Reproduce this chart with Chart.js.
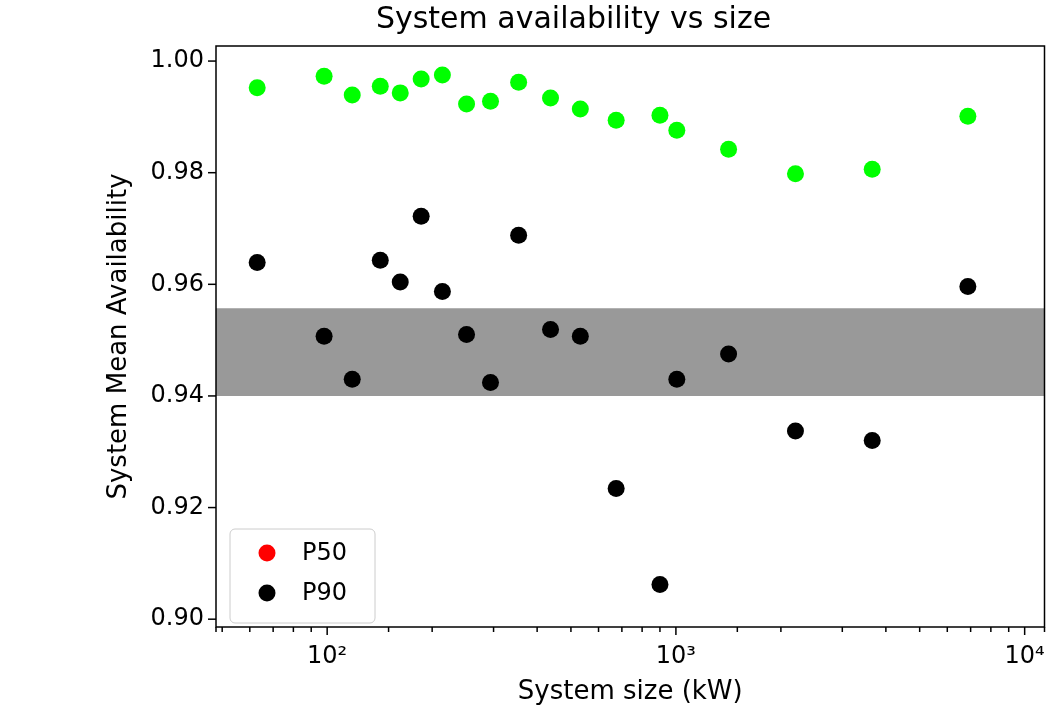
<!DOCTYPE html>
<html>
<head>
<meta charset="utf-8">
<script src="https://cdn.jsdelivr.net/npm/chart.js@4.4.1/dist/chart.umd.min.js"></script>
<style>
  html, body { margin: 0; padding: 0; background: #fff; }
  #wrap { width: 1053px; height: 712px; }
</style>
</head>
<body>
<div id="wrap"><canvas id="chart" width="1053" height="712"></canvas></div>
<script>
// Données
const systemSizes = [63, 98, 118, 142, 162, 186, 214, 251, 294, 354, 437, 532, 674, 900, 1006, 1416, 2202, 3655, 6873];
const p50Values = [0.9952, 0.9973, 0.9939, 0.9955, 0.9943, 0.9968, 0.9975, 0.9923, 0.9928, 0.9962, 0.9934, 0.9914, 0.9894, 0.9903, 0.9876, 0.9842, 0.9798, 0.9806, 0.9901];
const p90Values = [0.9639, 0.9507, 0.9430, 0.9643, 0.9604, 0.9722, 0.9587, 0.9510, 0.9424, 0.9688, 0.9519, 0.9507, 0.9234, 0.9062, 0.9430, 0.9475, 0.9337, 0.9320, 0.9596];
const bandLow = 0.940;
const bandHigh = 0.9557;
const xRange = [48, 11400];
const yRange = [0.8986, 1.0027];
const yTicks = [0.90, 0.92, 0.94, 0.96, 0.98, 1.00];
const legendItems = [
    { label: "P50", color: "#ff0000" },
    { label: "P90", color: "#000000" },
];

const FONT = "'DejaVu Sans', sans-serif";
const superscripts = { 2: "\u00b2", 3: "\u00b3", 4: "\u2074" };

// Cadre, graduations et légende dessinés à la main
const decorPlugin = {
    id: "decor",
    afterDraw(chart) {
        const { ctx, chartArea: a } = chart;
        const xs = chart.scales.x;
        const ys = chart.scales.y;
        ctx.save();
        ctx.strokeStyle = "#000";
        ctx.lineWidth = 1.5;
        // graduations x
        xs.ticks.forEach(t => {
            const exp = Math.log10(t.value);
            const major = Math.abs(exp - Math.round(exp)) < 1e-9;
            const px = xs.getPixelForValue(t.value);
            ctx.beginPath();
            ctx.moveTo(px, a.bottom);
            ctx.lineTo(px, a.bottom + (major ? 8 : 5));
            ctx.stroke();
        });
        // graduations y
        yTicks.forEach(v => {
            const py = ys.getPixelForValue(v);
            ctx.beginPath();
            ctx.moveTo(a.left, py);
            ctx.lineTo(a.left - 8, py);
            ctx.stroke();
        });
        ctx.strokeRect(a.left, a.top, a.right - a.left, a.bottom - a.top);

        // légende
        const lx = a.left + 14, ly = a.bottom - 98, lw = 145, lh = 94;
        ctx.fillStyle = "rgba(255,255,255,0.85)";
        ctx.strokeStyle = "#cccccc";
        ctx.lineWidth = 1;
        ctx.beginPath();
        ctx.roundRect(lx, ly, lw, lh, 5);
        ctx.fill();
        ctx.stroke();
        ctx.font = "24px " + FONT;
        ctx.textBaseline = "middle";
        legendItems.forEach((item, i) => {
            const cy = ly + 24 + i * 40;
            ctx.fillStyle = item.color;
            ctx.beginPath();
            ctx.arc(lx + 37, cy, 8.5, 0, Math.PI * 2);
            ctx.fill();
            ctx.fillStyle = "#000";
            ctx.fillText(item.label, lx + 72, cy + 1);
        });
        ctx.restore();
    },
};

const ctx = document.getElementById("chart").getContext("2d");
new Chart(ctx, {
    type: "scatter",
    data: {
        datasets: [
            {
                label: "P50",
                data: systemSizes.map((s, i) => ({ x: s, y: p50Values[i] })),
                backgroundColor: "#00ff00",
                borderWidth: 0,
                pointRadius: 8.5,
                order: 1,
            },
            {
                label: "P90",
                data: systemSizes.map((s, i) => ({ x: s, y: p90Values[i] })),
                backgroundColor: "#000000",
                borderWidth: 0,
                pointRadius: 8.5,
                order: 1,
            },
            {
                label: "band",
                type: "line",
                data: xRange.map(x => ({ x: x, y: bandHigh })),
                borderWidth: 0,
                pointRadius: 0,
                backgroundColor: "#999999",
                fill: { value: bandLow },
                order: 10,
            },
        ],
    },
    options: {
        responsive: false,
        animation: false,
        layout: { padding: { left: 100, right: 6, top: 0, bottom: 0 } },
        plugins: {
            legend: { display: false },
            tooltip: { enabled: false },
            title: {
                display: true,
                text: "System availability vs size",
                color: "#000",
                font: { family: FONT, size: 30, weight: "normal" },
                padding: { top: 2, bottom: 8 },
            },
        },
        scales: {
            x: {
                type: "logarithmic",
                min: xRange[0],
                max: xRange[1],
                afterFit: scale => { scale.height = 85; },
                border: { display: false },
                grid: { drawOnChartArea: false, tickLength: 8, tickColor: "rgba(0,0,0,0)" },
                ticks: {
                    autoSkip: false,
                    maxRotation: 0,
                    color: "#000",
                    padding: 7,
                    font: { family: FONT, size: 24 },
                    callback: v => {
                        const exp = Math.log10(v);
                        return Math.abs(exp - Math.round(exp)) < 1e-9 ? "10" + superscripts[Math.round(exp)] : "";
                    },
                },
                title: {
                    display: true,
                    text: "System size (kW)",
                    color: "#000",
                    font: { family: FONT, size: 26 },
                    padding: { top: 0, bottom: 4 },
                },
            },
            y: {
                min: yRange[0],
                max: yRange[1],
                afterFit: scale => { scale.width = 116; },
                border: { display: false },
                grid: { drawOnChartArea: false, tickLength: 8, tickColor: "rgba(0,0,0,0)" },
                ticks: {
                    stepSize: 0.02,
                    includeBounds: false,
                    color: "#000",
                    padding: 4,
                    font: { family: FONT, size: 24 },
                    callback: v => v.toFixed(2),
                },
                title: {
                    display: true,
                    text: "System Mean Availability",
                    color: "#000",
                    font: { family: FONT, size: 26 },
                    padding: { top: 4, bottom: 0 },
                },
            },
        },
    },
    plugins: [decorPlugin],
});
</script>
</body>
</html>
